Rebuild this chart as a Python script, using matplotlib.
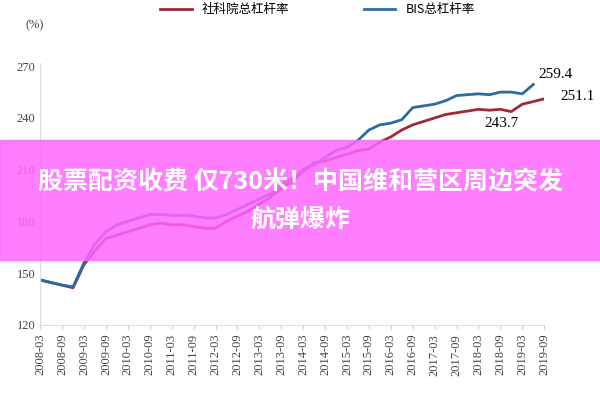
import matplotlib
matplotlib.use("Agg")
import matplotlib.pyplot as plt
from matplotlib.patches import Rectangle

plt.rcParams['font.family'] = ['Liberation Serif', 'Noto Sans CJK SC', 'DejaVu Sans']

# quarterly, 2008-03 .. 2019-09
quarters = []
for y in range(2008, 2020):
    for m in ("03", "06", "09", "12"):
        quarters.append(f"{y}-{m}")
quarters = quarters[:47]

cass = [146, 144.5, 143, 141.5, 155, 163, 170, 172, 174, 176, 178, 179,
        178, 178, 177, 176, 176, 180, 183, 186, 190, 194, 199, 203,
        209, 214, 215, 217, 219, 221, 222, 226, 229, 233, 236, 238,
        240, 242, 243, 244, 245, 244.5, 245, 243.7, 248, 249.5, 251.1]
bis = [146, 144.5, 143, 142, 156, 167, 174, 178, 180, 182, 184, 184,
       183.5, 183.5, 183, 182, 182, 184, 187, 190, 193, 196, 201, 205,
       210, 213, 217, 221, 223, 227, 233, 236, 237, 239, 246, 247,
       248, 250, 253, 253.5, 254, 253.5, 255, 255, 254.5, 254, 259.4]
bis = bis[:44] + bis[45:]

tick_labels = quarters[::2]
yticks = [120, 150, 180, 210, 240, 270]

fig = plt.figure(figsize=(6, 4), dpi=100)
ax = fig.add_axes([0.067, 0.188, 0.84, 0.655])
ax.plot(range(len(cass)), cass, color="#a0283a", lw=2, label="社科院总杠杆率")
ax.plot(range(len(bis)), bis, color="#2e6aa3", lw=2, label="BIS总杠杆率")
ax.set_xlim(0, 46)
ax.set_ylim(120, 272)
ax.set_yticks(yticks)
ax.set_xticks(range(0, 47, 2))
ax.set_xticklabels(tick_labels, rotation=90, fontsize=9, color="#444444")
ax.tick_params(axis="y", labelsize=9, colors="#444444", length=0)
ax.tick_params(axis="x", colors="#cccccc", labelcolor="#444444", length=3)
for s in ("top", "right"):
    ax.spines[s].set_visible(False)
ax.spines["left"].set_color("#dddddd")
ax.spines["bottom"].set_color("#dddddd")
ax.text(-0.03, 1.13, "(%)", transform=ax.transAxes, fontsize=9, color="#444444")
ax.annotate("259.4", (45, 259.4), xytext=(45.5, 263), fontsize=11)
ax.annotate("251.1", (46, 251.1), xytext=(47.5, 250.5), fontsize=11, annotation_clip=False)
ax.annotate("243.7", (43, 243.7), xytext=(40.5, 235), fontsize=11)
ax.legend(loc="upper center", bbox_to_anchor=(0.55, 1.27), ncol=2, frameon=False,
          columnspacing=6, handlelength=2.5,
          prop={'family': ['Noto Sans CJK SC', 'DejaVu Sans'], 'size': 9})

# pink banner overlay
fig.patches.append(Rectangle((0, 0.35), 1, 0.3, transform=fig.transFigure,
                             color="#ff66ff", alpha=0.85, zorder=10))
fig.text(0.5, 0.543, "股票配资收费 仅730米！中国维和营区周边突发", ha="center", va="center",
         fontsize=18, color="white", fontweight="bold",
         family=['Noto Sans CJK SC', 'DejaVu Sans'], zorder=11)
fig.text(0.5, 0.45, "航弹爆炸", ha="center", va="center",
         fontsize=18, color="white", fontweight="bold",
         family=['Noto Sans CJK SC', 'DejaVu Sans'], zorder=11)

fig.savefig("out.png", dpi=100)
